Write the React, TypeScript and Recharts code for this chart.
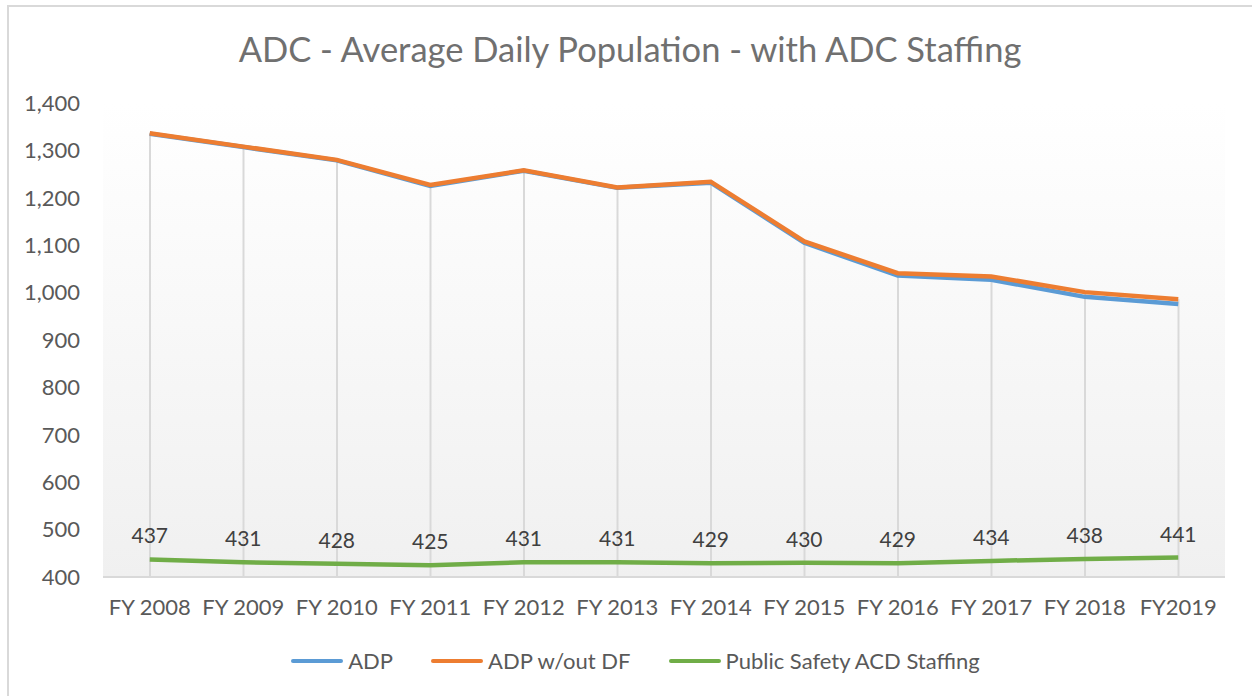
import {
  ComposedChart,
  Line,
  Bar,
  XAxis,
  YAxis,
  CartesianGrid,
  Legend,
  LabelList,
} from "recharts";

const categories = [
  "FY 2008",
  "FY 2009",
  "FY 2010",
  "FY 2011",
  "FY 2012",
  "FY 2013",
  "FY 2014",
  "FY 2015",
  "FY 2016",
  "FY 2017",
  "FY 2018",
  "FY2019",
];
const adp = [1335, 1307, 1279, 1225, 1257, 1221, 1232, 1105, 1036, 1027, 991, 976];
const adpNoDf = [1336, 1308, 1280, 1227, 1258, 1222, 1234, 1108, 1041, 1034, 1001, 986];
const staffing = [437, 431, 428, 425, 431, 431, 429, 430, 429, 434, 438, 441];
const yTicks = [400, 500, 600, 700, 800, 900, 1000, 1100, 1200, 1300, 1400];

const data = categories.map((name, i) => ({
  name,
  adp: adp[i],
  adpNoDf: adpNoDf[i],
  staffing: staffing[i],
  drop: Math.max(adp[i], adpNoDf[i]),
}));

const FONT = "Lato, 'Open Sans', sans-serif";
const TEXT = "#595959";

const legendItems = [
  { label: "ADP", color: "#5b9bd5" },
  { label: "ADP w/out DF", color: "#ed7d31" },
  { label: "Public Safety ACD Staffing", color: "#70ad47" },
];

function ChartLegend() {
  return (
    <div
      style={{
        display: "flex",
        justifyContent: "center",
        gap: 38,
        paddingTop: 20,
        paddingLeft: 46,
        fontFamily: FONT,
        fontSize: 22,
        color: TEXT,
      }}
    >
      {legendItems.map((it) => (
        <div key={it.label} style={{ display: "flex", alignItems: "center" }}>
          <span
            style={{
              display: "inline-block",
              width: 52,
              height: 4,
              borderRadius: 2,
              background: it.color,
              marginRight: 5,
            }}
          />
          {it.label}
        </div>
      ))}
    </div>
  );
}

export default function App() {
  return (
    <div style={{ position: "fixed", left: 0, top: 0, width: 1252, height: 696, background: "#fff" }}>
      <div
        style={{
          position: "absolute",
          left: 7,
          top: 5,
          width: 1260,
          height: 700,
          border: "2px solid #d9d9d9",
          boxSizing: "border-box",
        }}
      />
      <div
        style={{
          position: "absolute",
          top: 28,
          width: 1252,
          textAlign: "center",
          left: 4,
          fontFamily: FONT,
          fontSize: 34.5,
          color: "#707070",
        }}
      >
        ADC - Average Daily Population - with ADC Staffing
      </div>
      <ComposedChart
        width={1252}
        height={696}
        data={data}
        margin={{ top: 103, right: 27, left: 0, bottom: 0 }}
        style={{ position: "absolute", left: 0, top: 0 }}
      >
        <defs>
          <linearGradient id="plotBg" x1="0" y1="0" x2="0" y2="1">
            <stop offset="0%" stopColor="#ffffff" />
            <stop offset="100%" stopColor="#f0f0f0" />
          </linearGradient>
        </defs>
        <CartesianGrid horizontal={false} vertical={false} fill="url(#plotBg)" />
        <XAxis
          dataKey="name"
          height={50}
          tickLine={false}
          tickSize={0}
          tickMargin={22}
          axisLine={{ stroke: "#d9d9d9", strokeWidth: 2 }}
          tick={{ fill: TEXT, fontSize: 22, fontFamily: FONT }}
          interval={0}
        />
        <YAxis
          width={103}
          domain={[400, 1400]}
          ticks={yTicks}
          axisLine={false}
          tickLine={false}
          tickSize={0}
          tickMargin={23}
          tickFormatter={(v: number) => v.toLocaleString("en-US")}
          tick={{ fill: TEXT, fontSize: 22, fontFamily: FONT }}
        />
        <Legend verticalAlign="bottom" height={69} content={() => <ChartLegend />} />
        <Bar
          dataKey="drop"
          barSize={2}
          fill="#d9d9d9"
          legendType="none"
          isAnimationActive={false}
        />
        <Line
          dataKey="adp"
          name="ADP"
          stroke="#5b9bd5"
          strokeWidth={4.5}
          dot={false}
          isAnimationActive={false}
        />
        <Line
          dataKey="adpNoDf"
          name="ADP w/out DF"
          stroke="#ed7d31"
          strokeWidth={4.5}
          dot={false}
          isAnimationActive={false}
        />
        <Line
          dataKey="staffing"
          name="Public Safety ACD Staffing"
          stroke="#70ad47"
          strokeWidth={4.5}
          dot={false}
          isAnimationActive={false}
        >
          <LabelList
            dataKey="staffing"
            position="top"
            offset={16}
            fill="#404040"
            fontSize={21}
            fontFamily={FONT}
          />
        </Line>
      </ComposedChart>
    </div>
  );
}
